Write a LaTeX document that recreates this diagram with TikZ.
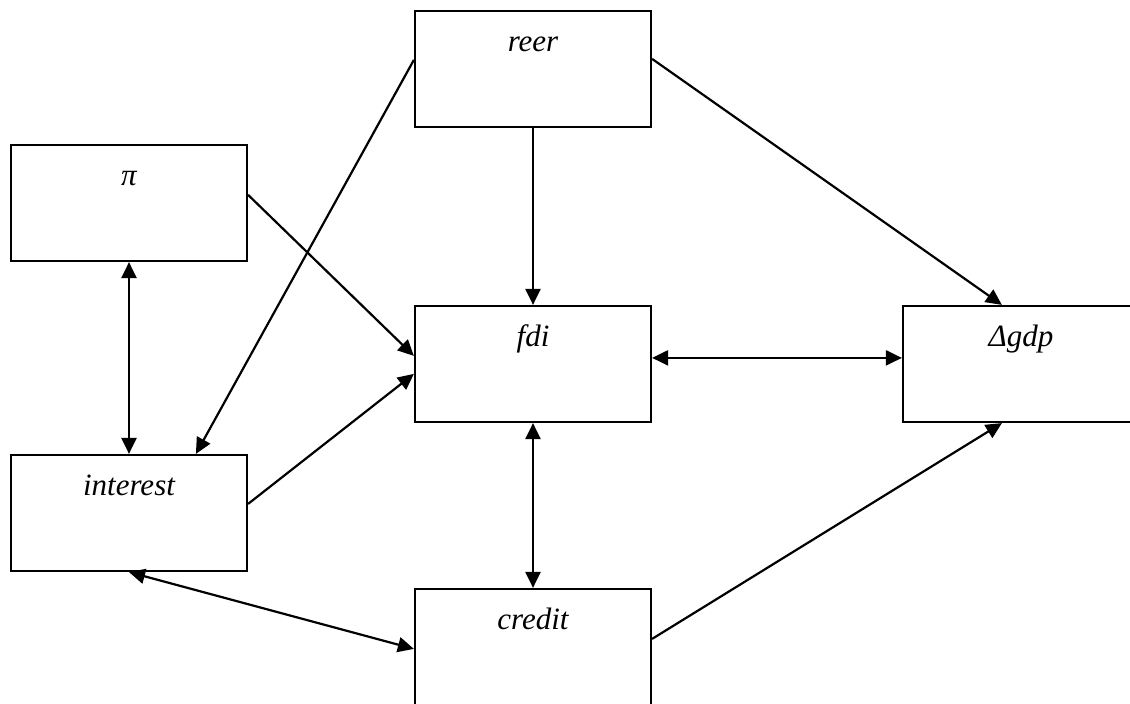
\documentclass[tikz,border=0pt]{standalone}
\usepackage{fontspec}
\setmainfont{Liberation Serif}
\usetikzlibrary{arrows.meta,calc}

\begin{document}
\begin{tikzpicture}[x=0.5pt,y=-0.5pt,line width=1.1pt,>={Triangle[length=8pt,width=7.5pt]},
  box/.style={draw,rectangle,inner sep=0pt,text width=118pt,align=center,
    text height=20.5pt,text depth=37.5pt,font=\fontsize{15.5pt}{18pt}\selectfont\itshape}]
\useasboundingbox (0,0) rectangle (1130,704);
\clip (0,0) rectangle (1130,704);
\node[box] (pi) at (129,203) {π};
\node[box] (reer) at (533,69) {reer};
\node[box] (fdi) at (533,364) {fdi};
\node[box] (dgdp) at (1021,364) {Δgdp};
\node[box] (interest) at (129,513) {interest};
\node[box] (credit) at (533,647) {credit};
%\draw[help lines] (0,0) grid (1130,704);
\draw[->] ($(pi.north east)+(0,51)$) -- ($(fdi.north west)+(0,51)$);
\draw[->] ($(interest.north east)+(0,50)$) -- ($(fdi.north west)+(0,69)$);
\draw[->] ($(reer.north west)+(0,50)$) -- ($(interest.north west)+(186,0)$);
\draw[->] (reer.south) -- (fdi.north);
\draw[->] ($(reer.north east)+(0,49)$) -- ($(dgdp.north west)+(100,0)$);
\draw[<->] ($(fdi.north east)+(0,53)$) -- ($(dgdp.north west)+(0,53)$);
\draw[<->] (fdi.south) -- (credit.north);
\draw[<->] (pi.south) -- (interest.north);
\draw[<->] (interest.south) -- ($(credit.north west)+(0,61)$);
\draw[->] ($(credit.north east)+(0,51)$) -- ($(dgdp.south west)+(100,0)$);
\end{tikzpicture}
\end{document}
